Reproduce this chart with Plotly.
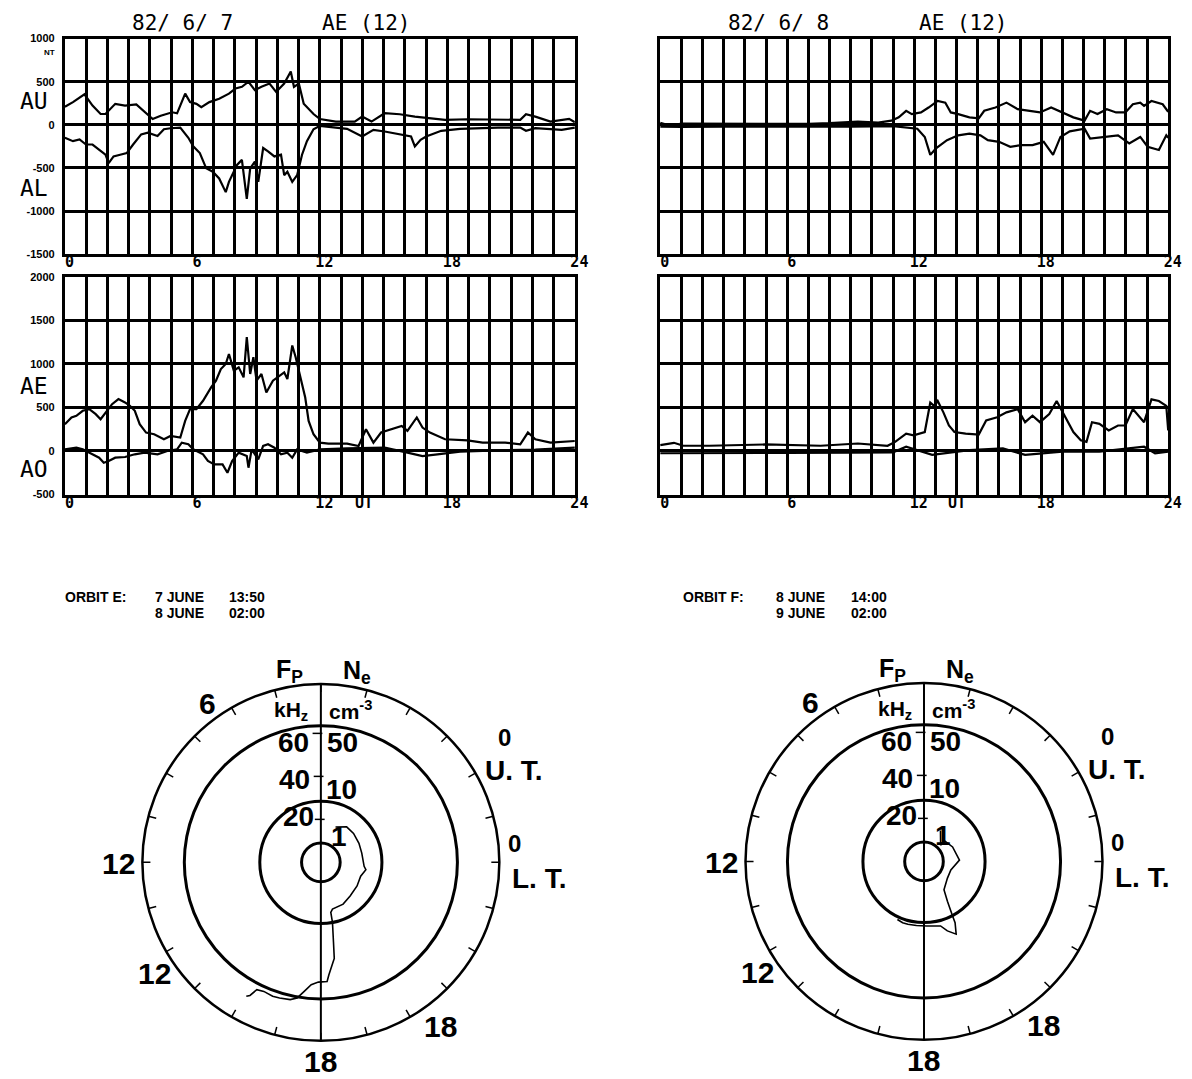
import plotly.graph_objects as go

W, H = 1192, 1079

# ---------------- data: 1982-06-07 ----------------
au7_h = [0, 0.38, 0.92, 1.3, 1.68, 1.91, 2.37, 2.83, 3.36, 3.75, 4.13, 4.51, 5.05, 5.28, 5.66, 5.89, 6.19, 6.42, 6.8, 7.26,
         7.72, 8.03, 8.33, 8.64, 8.94, 9.25, 9.63, 9.94, 10.32, 10.63, 10.78, 11.01, 11.24, 11.7, 12.0,
         12.75, 13.64, 13.99, 14.43, 15.05, 15.76, 16.47, 17.18, 17.89, 18.95, 20.37, 21.43, 21.7, 22.14, 22.85, 23.73, 24]
au7_v = [210, 264, 354, 224, 126, 126, 244, 224, 236, 146, 67, 106, 146, 134, 362, 264, 244, 205, 264, 303,
         362, 421, 441, 500, 402, 441, 480, 382, 480, 618, 441, 480, 244, 126, 67,
         38, 38, 96, 38, 135, 123, 96, 77, 58, 65, 58, 58, 123, 96, 38, 69, 31]

al7_h = [0, 0.38, 0.69, 0.99, 1.3, 1.68, 1.91, 2.06, 2.29, 2.6, 2.91, 3.21, 3.59, 3.9, 4.36, 4.66, 4.97, 5.43, 5.81, 6.04,
         6.35, 6.65, 6.96, 7.26, 7.57, 7.72, 8.1, 8.33, 8.56, 8.72, 8.94, 9.1, 9.33, 9.56, 9.86, 10.17, 10.32, 10.47, 10.7, 10.93,
         11.16, 11.39, 11.7, 12.0, 13.28, 13.99, 14.52, 15.05, 15.76, 16.29, 16.47, 16.74, 17.0, 17.71, 18.6, 20.37, 21.43,
         21.7, 22.14, 23.38, 24]
al7_v = [-150, -189, -169, -228, -228, -307, -346, -445, -366, -346, -327, -228, -110, -91, -130, -51, -39, -31, -150, -248,
         -327, -504, -543, -622, -780, -661, -465, -406, -858, -504, -425, -661, -268, -307, -366, -346, -583, -543, -661, -583,
         -346, -189, -51, -12, -46, -135, -58, -77, -108, -135, -250, -173, -135, -69, -46, -31, -31,
         -69, -38, -58, -31]

ae7_h = [0, 0.31, 0.54, 0.84, 1.15, 1.45, 1.68, 1.91, 2.22, 2.52, 2.83, 3.06, 3.29, 3.52, 3.82, 4.2, 4.66, 4.97, 5.43, 5.66,
         5.89, 6.19, 6.5, 6.88, 7.11, 7.34, 7.57, 7.72, 7.95, 8.18, 8.41, 8.56, 8.72, 8.87, 9.02, 9.25, 9.48, 9.79, 10.02, 10.32,
         10.47, 10.7, 10.86, 11.09, 11.31, 11.47, 11.7, 12.0, 12.4, 13.28, 13.82, 14.17, 14.52, 14.88, 15.41, 15.85, 16.12, 16.56,
         16.83, 17.18, 17.89, 18.95, 19.66, 20.72, 21.43, 21.79, 22.14, 22.85, 24]
ae7_v = [308, 385, 404, 462, 481, 423, 365, 442, 538, 596, 558, 519, 462, 308, 212, 192, 135, 173, 154, 346,
         481, 481, 577, 731, 808, 942, 1000, 1115, 923, 962, 846, 1308, 885, 1077, 808, 885, 673, 808, 846, 904,
         827, 1212, 1077, 846, 615, 346, 192, 96, 85, 85, 58, 250, 96, 212, 250, 288, 231, 385,
         269, 212, 135, 123, 96, 96, 77, 212, 135, 96, 115]

ao7_h = [0, 0.54, 0.84, 1.15, 1.61, 1.83, 2.06, 2.37, 2.83, 3.29, 3.75, 4.36, 4.82, 5.28, 5.5, 5.81, 6.04, 6.5, 6.73, 7.03,
         7.42, 7.65, 7.87, 8.18, 8.56, 8.64, 8.79, 9.1, 9.33, 9.56, 9.86, 10.17, 10.47, 10.7, 10.93, 11.39, 12.0,
         13.28, 15.05, 16.12, 16.83, 17.53, 18.6, 20.37, 22.14, 24]
ao7_v = [19, 38, 19, -19, -77, -135, -115, -77, -69, -38, -19, -38, 0, 19, 96, 77, 19, -38, -115, -154,
         -154, -250, -115, -19, -58, -192, 19, -96, 58, 77, 38, -38, -19, -77, 19, -19, 19,
         31, 38, -19, -58, -38, -8, 8, 15, 38]

# ---------------- data: 1982-06-08 ----------------
au8_h = [0, 0.5, 1, 2.32, 3.5, 4.5, 5.83, 7, 8, 9.34, 10.3, 10.92, 11.27, 11.62, 11.89, 12.32, 12.68, 13.11, 13.47, 13.73,
         14.08, 14.61, 15.05, 15.31, 15.84, 16.36, 16.89, 17.42, 17.94, 18.47, 19.0, 19.52, 20.05, 20.31, 20.66, 21.1,
         21.54, 21.98, 22.33, 22.68, 22.86, 23.21, 23.74, 24]
au8_v = [23, -10, 15, 15, 10, 18, 15, 12, 20, 38, 25, 49, 87, 163, 125, 144, 201, 277, 258, 144,
         125, 87, 76, 163, 201, 258, 182, 163, 144, 201, 144, 87, 49, 163, 125, 182,
         144, 144, 239, 258, 220, 277, 239, 152]

al8_h = [0, 1, 3, 5, 7, 9, 11, 12.15, 12.5, 12.76, 13.03, 13.55, 14.08, 14.61, 15.13, 15.48, 16.01, 16.54, 17.06, 17.59,
         18.12, 18.56, 18.91, 19.35, 20.05, 20.31, 20.93, 21.63, 22.16, 22.68, 23.03, 23.56, 23.91, 24]
al8_v = [-20, -25, -22, -25, -20, -22, -15, -45, -140, -348, -273, -178, -121, -102, -121, -178, -197, -254, -235, -235,
         -197, -348, -140, -76, -45, -159, -140, -121, -216, -140, -254, -292, -121, -150]

ae8_h = [0, 0.65, 1.09, 2.32, 4.95, 7.58, 9.34, 10.74, 11.1, 11.62, 11.97, 12.5, 12.76, 12.94, 13.11, 13.38, 13.64, 13.9,
         14.43, 15.05, 15.4, 15.92, 16.36, 16.63, 16.89, 17.24, 17.59, 17.94, 18.38, 18.73, 19.17, 19.52, 19.87, 20.14,
         20.4, 20.75, 21.19, 21.63, 21.98, 22.33, 22.86, 23.21, 23.56, 23.91, 24]
ae8_v = [68, 94, 60, 60, 75, 60, 86, 60, 105, 199, 180, 218, 556, 519, 575, 444, 293, 218,
         199, 188, 350, 387, 444, 462, 481, 331, 406, 331, 425, 575, 368, 218, 124, 105,
         331, 312, 237, 293, 293, 481, 331, 594, 575, 519, 237]

ao8_h = [0, 3, 6, 9, 11, 11.62, 12.85, 14.61, 16.19, 17.24, 19.0, 20.75, 22.86, 23.38, 24]
ao8_v = [-26, -20, -22, -20, -15, 49, -45, 11, 30, -45, -8, -8, 49, -26, -8]

# ---------------- orbit tracks (local time h, plasma frequency kHz) ----------------
orbE_lt = [4.5, 3.6, 2.77, 1.77, 0.85, 23.65, 23.39, 22.72, 21.79, 20.74, 19.87, 18.93, 18.75, 18.73, 18.6, 18.53, 18.47,
           18.27, 18.2, 17.92, 17.7, 17.51, 17.34, 17.16, 16.87, 16.68, 16.41, 16.22, 16.13, 16.06]
orbE_fp = [17.8, 20.4, 20.3, 19.8, 19.5, 20.2, 21.2, 19.6, 20.1, 20.7, 22.0, 22.4, 23.7, 28.4, 37.5, 45.1, 46.6,
           52.5, 55.5, 55.7, 57.1, 60.5, 64.0, 65.4, 65.9, 66.2, 65.6, 66.3, 70.1, 71.3]
orbF_lt = [4.13, 2.95, 3.1, 1.79, 0.14, 22.83, 21.63, 20.35, 20.03, 19.84, 19.79, 19.59, 19.24, 18.96, 18.16, 17.55,
           17.04, 16.72, 16.36]
orbF_fp = [16.3, 10.8, 13.5, 14.9, 16.5, 13.1, 13.4, 16.1, 21.5, 28.7, 32.0, 37.0, 34.1, 31.0, 30.1, 30.0,
           30.2, 30.2, 29.7]

ne_rings = [1, 10, 50]          # cm^-3
fp_marks = [20, 40, 60]         # kHz
fp_outer = 83                   # kHz at outer ring
hour_ticks = list(range(24))

x_labels = [0, 6, 12, 18, 24]
top_ticks = [-1500, -1000, -500, 0, 500, 1000]
bot_ticks = [-500, 0, 500, 1000, 1500, 2000]

# ---------------- figure ----------------
PLOT = "DejaVu Sans Mono"
SANS = "Liberation Sans, Arial, sans-serif"


def px(x):
    return x / W


def py(y):
    return 1 - y / H


fig = go.Figure()
line = dict(color="black", width=2.2)

panels = [
    ("x", "y", [(au7_h, au7_v), (al7_h, al7_v)]),
    ("x2", "y2", [(au8_h, au8_v), (al8_h, al8_v)]),
    ("x3", "y3", [(ae7_h, ae7_v), (ao7_h, ao7_v)]),
    ("x4", "y4", [(ae8_h, ae8_v), (ao8_h, ao8_v)]),
]
for xa, ya, series in panels:
    for hh, vv in series:
        fig.add_trace(go.Scatter(x=hh, y=vv, mode="lines", line=line, xaxis=xa, yaxis=ya,
                                 showlegend=False, hoverinfo="skip"))

L0, L1 = 57, 577
R0, R1 = 664, 1182
T0, T1 = 33, 251
B0, B1 = 274, 494


def xax(d0, d1, anchor):
    return dict(domain=[px(d0), px(d1)], range=[0, 24], anchor=anchor,
                tickvals=x_labels,
                ticktext=["\u00a0" + str(h) for h in x_labels],
                showgrid=True, gridcolor="black", gridwidth=3,
                minor=dict(dtick=1, tick0=0, showgrid=True, gridcolor="black", gridwidth=3, ticks=""),
                showline=True, linecolor="black", linewidth=3, mirror=True,
                ticks="", zeroline=False, ticklabelstandoff=-8,
                tickfont=dict(family=PLOT, size=15, color="black", weight="bold"))


def yax(d0, d1, anchor, rng, tv, labels):
    return dict(domain=[py(d1), py(d0)], range=rng, anchor=anchor,
                tickvals=tv, ticktext=[str(t) for t in tv],
                showticklabels=labels,
                showgrid=True, gridcolor="black", gridwidth=3,
                showline=True, linecolor="black", linewidth=3, mirror=True,
                ticks="", zeroline=False, ticklabelstandoff=5,
                tickfont=dict(family=SANS, size=11, color="black", weight="bold"))


fig.update_layout(
    xaxis=xax(L0, L1, "y"), yaxis=yax(T0, T1, "x", [-1500, 1000], top_ticks, True),
    xaxis2=xax(R0, R1, "y2"), yaxis2=yax(T0, T1, "x2", [-1500, 1000], top_ticks, False),
    xaxis3=xax(L0, L1, "y3"), yaxis3=yax(B0, B1, "x3", [-500, 2000], bot_ticks, True),
    xaxis4=xax(R0, R1, "y4"), yaxis4=yax(B0, B1, "x4", [-500, 2000], bot_ticks, False),
)

# ---------------- polar plots ----------------
RADPX = 182
polar_centers = [(318, 866), (933, 865)]
orbits = [(orbE_lt, orbE_fp), (orbF_lt, orbF_fp)]
ring_fp = [8.98 * n ** 0.5 for n in ne_rings]

tick_r, tick_t = [], []
for h in hour_ticks:
    tick_r += [fp_outer, fp_outer * 0.955, None]
    tick_t += [h * 15, h * 15, None]

for i, ((cx, cy), (lt, fp)) in enumerate(zip(polar_centers, orbits)):
    key = "polar" if i == 0 else "polar2"
    fig.update_layout(**{key: dict(
        domain=dict(x=[px(cx - RADPX), px(cx + RADPX)], y=[py(cy + RADPX), py(cy - RADPX)]),
        bgcolor="white",
        radialaxis=dict(range=[0, fp_outer], tickvals=ring_fp, showticklabels=False, ticks="",
                        showline=False, showgrid=True, gridcolor="black", gridwidth=2.5),
        angularaxis=dict(rotation=0, direction="counterclockwise", showticklabels=False, ticks="",
                         showgrid=False, showline=True, linecolor="black", linewidth=2.5),
    )})
    sub = key
    fig.add_trace(go.Scatterpolar(r=tick_r, theta=tick_t, mode="lines", connectgaps=False,
                                  line=dict(color="black", width=1.5), subplot=sub, showlegend=False,
                                  hoverinfo="skip"))
    fig.add_trace(go.Scatterpolar(r=[fp_outer, 0, fp_outer], theta=[90, 90, 270], mode="lines",
                                  line=dict(color="black", width=2), subplot=sub, showlegend=False,
                                  hoverinfo="skip"))
    fig.add_trace(go.Scatterpolar(r=fp_marks, theta=[91.5] * len(fp_marks), mode="markers",
                                  marker=dict(symbol="line-ew", size=7, line=dict(color="black", width=1.5)),
                                  subplot=sub, showlegend=False, hoverinfo="skip"))
    fig.add_trace(go.Scatterpolar(r=fp, theta=[h * 15 for h in lt], mode="lines",
                                  line=dict(color="black", width=1.6), subplot=sub, showlegend=False,
                                  hoverinfo="skip"))

# ---------------- annotations ----------------
ann = []


def text(x, y, s, size, family=SANS, bold=True, xanchor="center", yanchor="middle"):
    ann.append(dict(x=px(x), y=py(y), xref="paper", yref="paper", text=s, showarrow=False,
                    xanchor=xanchor, yanchor=yanchor, borderpad=0,
                    font=dict(family=family, size=size, color="black", weight="bold" if bold else "normal")))


# chart titles
text(177, 17, "82/ 6/ 7", 21, PLOT, False)
text(365, 17, "AE (12)", 21, PLOT, False)
text(785, 17, "82/ 6/ 8", 21, PLOT, False)
text(973, 17, "AE (12)", 21, PLOT, False)
# index names
text(26, 96, "AU", 23, PLOT, False)
text(26, 184, "AL", 23, PLOT, False)
text(26, 384, "AE", 23, PLOT, False)
text(26, 468, "AO", 23, PLOT, False)
text(48, 47, "NT", 8, SANS, True, "right")
text(362, 503, "UT", 15, PLOT, True)
text(967, 503, "UT", 15, PLOT, True)

# orbit headers
for x0, xd, xt, name, d1, t1, d2, t2 in [(56, 148, 223, "ORBIT E:", "7 JUNE", "13:50", "8 JUNE", "02:00"),
                                          (686, 781, 858, "ORBIT F:", "8 JUNE", "14:00", "9 JUNE", "02:00")]:
    text(x0, 598, name, 14, SANS, True, "left")
    text(xd, 598, d1, 14, SANS, True, "left")
    text(xt, 598, t1, 14, SANS, True, "left")
    text(xd, 614, d2, 14, SANS, True, "left")
    text(xt, 614, t2, 14, SANS, True, "left")

# polar labels
for cx, cy in polar_centers:
    text(cx - 32, cy - 194, "F<sub>P</sub>", 25)
    text(cx + 37, cy - 193, "N<sub>e</sub>", 25)
    text(cx - 30, cy - 153, "kH<sub>z</sub>", 21)
    text(cx + 30, cy - 154, "cm<sup>-3</sup>", 21)
    text(cx - 28, cy - 121, "60", 28)
    text(cx + 22, cy - 121, "50", 28)
    text(cx - 27, cy - 84, "40", 28)
    text(cx + 21, cy - 74, "10", 28)
    text(cx - 23, cy - 46, "20", 28)
    text(cx + 19, cy - 26, "1", 28)
    text(cx - 116, cy - 161, "6", 30)
    text(cx - 206, cy + 1, "12", 30)
    text(cx - 170, cy + 112, "12", 30)
    text(cx + 122, cy + 166, "18", 30)
    text(cx, cy + 201, "18", 30)
    text(cx + 187, cy - 126, "0", 24)
    text(cx + 197, cy - 93, "U. T.", 28)
    text(cx + 197, cy - 19, "0", 24)
    text(cx + 222, cy + 16, "L. T.", 28)

fig.update_layout(annotations=ann, width=W, height=H, margin=dict(l=0, r=0, t=0, b=0),
                  paper_bgcolor="white", plot_bgcolor="white", showlegend=False)

fig.write_html("out.html")
